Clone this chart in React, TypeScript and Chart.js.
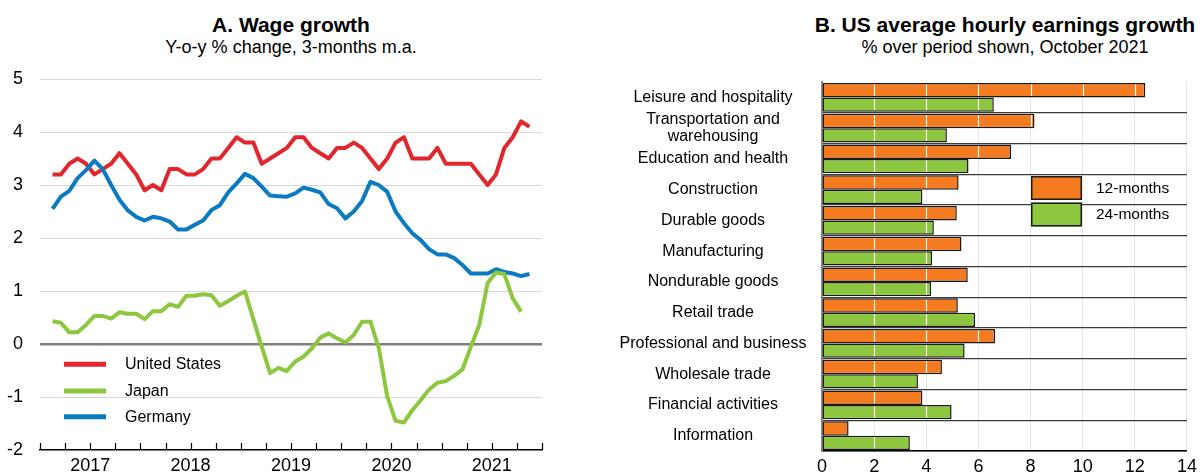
import React, { useEffect, useRef } from 'react';
import { Chart, registerables } from 'chart.js';

Chart.register(...registerables);

const FONT = "'Liberation Sans', Arial, Helvetica, sans-serif";
Chart.defaults.font.family = FONT;

// ---------- Panel A: Wage growth (monthly, Feb 2017 onwards) ----------
const firstMonthIndex = 1; // months since Jan 2017 (1 = Feb 2017)
const yearLabels = ['2017', '2018', '2019', '2020', '2021'];

const usWage = [
  3.2, 3.2, 3.4, 3.5, 3.4, 3.2, 3.3, 3.4, 3.6, 3.4, 3.2, 2.9,
  3.0, 2.9, 3.3, 3.3, 3.2, 3.2, 3.3, 3.5, 3.5, 3.7, 3.9, 3.8,
  3.8, 3.4, 3.5, 3.6, 3.7, 3.9, 3.9, 3.7, 3.6, 3.5, 3.7, 3.7,
  3.8, 3.7, 3.5, 3.3, 3.5, 3.8, 3.9, 3.5, 3.5, 3.5, 3.7, 3.4,
  3.4, 3.4, 3.4, 3.2, 3.0, 3.2, 3.7, 3.9, 4.2, 4.1,
];

const japanWage = [
  0.43, 0.40, 0.22, 0.22, 0.36, 0.53, 0.53, 0.48, 0.60, 0.57, 0.57, 0.47,
  0.62, 0.62, 0.75, 0.70, 0.91, 0.91, 0.94, 0.92, 0.72, 0.81, 0.91, 0.99,
  0.47, -0.05, -0.55, -0.45, -0.51, -0.33, -0.24, -0.08, 0.12, 0.20, 0.11, 0.03,
  0.17, 0.42, 0.42, -0.08, -0.99, -1.45, -1.48, -1.25, -1.06, -0.86, -0.73, -0.70,
  -0.60, -0.48, -0.05, 0.36, 1.15, 1.35, 1.32, 0.86, 0.61,
];

const germanyWage = [
  2.55, 2.78, 2.89, 3.13, 3.28, 3.46, 3.30, 3.00, 2.72, 2.52, 2.40, 2.33,
  2.40, 2.37, 2.31, 2.16, 2.16, 2.25, 2.33, 2.53, 2.62, 2.86, 3.03, 3.21,
  3.13, 2.97, 2.80, 2.79, 2.78, 2.84, 2.95, 2.91, 2.86, 2.64, 2.56, 2.37,
  2.50, 2.70, 3.06, 3.00, 2.87, 2.50, 2.28, 2.09, 1.96, 1.79, 1.69, 1.69,
  1.62, 1.49, 1.33, 1.33, 1.33, 1.41, 1.36, 1.33, 1.28, 1.32,
];

// ---------- Panel B: US average hourly earnings growth ----------
const sectors: (string | string[])[] = [
  'Leisure and hospitality',
  ['Transportation and', 'warehousing'],
  'Education and health',
  'Construction',
  'Durable goods',
  'Manufacturing',
  'Nondurable goods',
  'Retail trade',
  'Professional and business',
  'Wholesale trade',
  'Financial activities',
  'Information',
];
const earnings12m = [12.4, 8.15, 7.25, 5.24, 5.17, 5.35, 5.59, 5.21, 6.64, 4.6, 3.85, 1.02];
const earnings24m = [6.59, 4.79, 5.62, 3.85, 4.29, 4.22, 4.19, 5.87, 5.47, 3.68, 4.97, 3.37];

const RED = '#E1262D';
const GREEN = '#8DC63F';
const BLUE = '#0B7BC1';
const ORANGE = '#F47B20';
const BAR_GREEN = '#8DC63F';

// canvas placement on the page
const A_TOP = 53;
const A_HEIGHT = 423;
const B_TOP = 58;
const B_HEIGHT = 417;

const toPoints = (values: number[]) =>
  values.map((v, i) => ({ x: firstMonthIndex + i + 0.5, y: v }));

const quarterTicksPlugin = {
  id: 'quarterTicks',
  afterDraw(chart: any) {
    const { ctx, chartArea } = chart;
    const x = chart.scales.x;
    ctx.save();
    ctx.strokeStyle = '#000';
    ctx.lineWidth = 1.2;
    x.ticks.forEach((t: any) => {
      const px = Math.round(x.getPixelForValue(t.value)) + 0.5;
      ctx.beginPath();
      ctx.moveTo(px, chartArea.bottom);
      ctx.lineTo(px, chartArea.bottom - 7);
      ctx.stroke();
    });
    ctx.restore();
  },
};

const lineLegendPlugin = {
  id: 'lineLegend',
  afterDraw(chart: any) {
    const { ctx } = chart;
    const rows = [364.3, 391, 416.7].map((y) => y - A_TOP);
    ctx.save();
    ctx.font = `16px ${FONT}`;
    ctx.textBaseline = 'middle';
    ctx.fillStyle = '#000';
    chart.data.datasets.forEach((ds: any, k: number) => {
      const y = rows[k];
      ctx.strokeStyle = ds.borderColor;
      ctx.lineWidth = 5;
      ctx.beginPath();
      ctx.moveTo(64, y);
      ctx.lineTo(106, y);
      ctx.stroke();
      ctx.fillText(ds.label, 125, y + 0.5);
    });
    ctx.restore();
  },
};

const barGridOverlayPlugin = {
  id: 'barGridOverlay',
  afterDatasetsDraw(chart: any) {
    const { ctx } = chart;
    const xs = chart.scales.x;
    const values = [2, 4, 6, 8, 10, 12];
    ctx.save();
    ctx.strokeStyle = '#ffffff';
    ctx.lineWidth = 1.2;
    chart.data.datasets.forEach((_: any, di: number) => {
      const meta = chart.getDatasetMeta(di);
      meta.data.forEach((bar: any) => {
        const p = bar.getProps(['x', 'y', 'base', 'height'], true);
        const left = Math.min(p.base, p.x);
        const right = Math.max(p.base, p.x);
        values.forEach((v) => {
          const px = Math.round(xs.getPixelForValue(v)) + 0.5;
          if (px > left + 1.5 && px < right - 1.5) {
            ctx.beginPath();
            ctx.moveTo(px, p.y - p.height / 2 + 1.5);
            ctx.lineTo(px, p.y + p.height / 2 - 1.5);
            ctx.stroke();
          }
        });
      });
    });
    ctx.restore();
  },
};

const boxLegendPlugin = {
  id: 'boxLegend',
  afterDraw(chart: any) {
    const { ctx } = chart;
    const boxes = [
      { y: 176 - B_TOP, h: 24 },
      { y: 202.5 - B_TOP, h: 24 },
    ];
    ctx.save();
    ctx.font = `15.5px ${FONT}`;
    ctx.textBaseline = 'middle';
    chart.data.datasets.forEach((ds: any, i: number) => {
      const b = boxes[i];
      ctx.fillStyle = ds.backgroundColor;
      ctx.fillRect(431, b.y, 51, b.h);
      ctx.strokeStyle = '#1a1a1a';
      ctx.lineWidth = 1.5;
      ctx.strokeRect(431.75, b.y + 0.75, 49.5, b.h - 1.5);
      ctx.fillStyle = '#000';
      ctx.fillText(ds.label, 496, b.y + b.h / 2 + 0.5);
    });
    ctx.restore();
  },
};

function WageChart() {
  const ref = useRef<HTMLCanvasElement>(null);
  useEffect(() => {
    const chart = new Chart(ref.current as HTMLCanvasElement, {
      type: 'line',
      data: {
        datasets: [
          { label: 'United States', data: toPoints(usWage), borderColor: RED, backgroundColor: RED, order: 3 },
          { label: 'Japan', data: toPoints(japanWage), borderColor: GREEN, backgroundColor: GREEN, order: 1 },
          { label: 'Germany', data: toPoints(germanyWage), borderColor: BLUE, backgroundColor: BLUE, order: 2 },
        ],
      },
      options: {
        animation: false,
        responsive: false,
        maintainAspectRatio: false,
        layout: { padding: { top: 0, right: 18, left: 0, bottom: 0 } },
        elements: {
          point: { radius: 0 },
          line: { borderWidth: 4, tension: 0, borderJoinStyle: 'round', borderCapStyle: 'butt' },
        },
        plugins: { legend: { display: false }, tooltip: { enabled: false } },
        scales: {
          x: {
            type: 'linear',
            min: 0,
            max: 60,
            afterBuildTicks: (s: any) => {
              const t = [];
              for (let v = 0; v <= 60; v += 3) t.push({ value: v });
              s.ticks = t;
            },
            afterFit: (s: any) => {
              s.height = 24;
            },
            grid: { display: false, drawTicks: false },
            border: { display: true, color: '#000', width: 1.5 },
            ticks: {
              autoSkip: false,
              maxRotation: 0,
              minRotation: 0,
              padding: 5,
              color: '#000',
              font: { size: 18 },
              callback: (v: any) => {
                const n = Number(v);
                return n % 12 === 6 ? yearLabels[(n - 6) / 12] : '';
              },
            },
          },
          y: {
            min: -2,
            max: 5,
            afterFit: (s: any) => {
              s.width = 40;
            },
            ticks: { stepSize: 1, padding: 17, color: '#000', font: { size: 18, lineHeight: 1 } },
            grid: {
              drawTicks: false,
              color: (c: any) =>
                c.tick && c.tick.value === 0 ? '#7f7f7f' : c.tick && c.tick.value === -2 ? 'rgba(0,0,0,0)' : '#d9d9d9',
              lineWidth: (c: any) => (c.tick && c.tick.value === 0 ? 2.5 : 1),
            },
            border: { display: false },
          },
        },
      } as any,
      plugins: [quarterTicksPlugin, lineLegendPlugin],
    });
    return () => chart.destroy();
  }, []);
  return (
    <canvas
      ref={ref}
      width={560}
      height={A_HEIGHT}
      style={{ position: 'absolute', left: 0, top: A_TOP, width: 560, height: A_HEIGHT }}
    />
  );
}

function EarningsChart() {
  const ref = useRef<HTMLCanvasElement>(null);
  useEffect(() => {
    const chart = new Chart(ref.current as HTMLCanvasElement, {
      type: 'bar',
      data: {
        labels: sectors as any,
        datasets: [
          { label: '12-months', data: earnings12m, backgroundColor: ORANGE },
          { label: '24-months', data: earnings24m, backgroundColor: BAR_GREEN },
        ],
      },
      options: {
        indexAxis: 'y',
        animation: false,
        responsive: false,
        maintainAspectRatio: false,
        layout: { padding: { top: 0, right: 12.5, left: 0, bottom: 0 } },
        datasets: {
          bar: {
            categoryPercentage: 0.93,
            barPercentage: 1,
            borderWidth: 1.5,
            borderColor: '#1a1a1a',
            borderSkipped: false,
          },
        },
        plugins: { legend: { display: false }, tooltip: { enabled: false } },
        scales: {
          x: {
            min: 0,
            max: 14,
            afterFit: (s: any) => {
              s.height = 23;
            },
            ticks: { stepSize: 2, padding: 5, color: '#000', font: { size: 18 } },
            grid: {
              drawTicks: false,
              color: (c: any) => (c.tick && c.tick.value === 0 ? 'rgba(0,0,0,0)' : '#e3e7ef'),
              lineWidth: 1,
            },
            border: { color: '#000', width: 1.5 },
          },
          y: {
            z: 1,
            afterFit: (s: any) => {
              s.width = 222;
            },
            ticks: {
              autoSkip: false,
              crossAlign: 'center',
              padding: 15.6,
              color: '#000',
              font: { size: 16, lineHeight: 1.05 },
            },
            grid: {
              drawTicks: false,
              color: (c: any) => (c.index === 0 ? 'rgba(0,0,0,0)' : '#3a3a3a'),
              lineWidth: 1.3,
            },
            border: { color: '#8a8a8a', width: 2 },
          },
        },
      } as any,
      plugins: [barGridOverlayPlugin, boxLegendPlugin],
    });
    return () => chart.destroy();
  }, []);
  return (
    <canvas
      ref={ref}
      width={602}
      height={B_HEIGHT}
      style={{ position: 'absolute', left: 600, top: B_TOP, width: 602, height: B_HEIGHT }}
    />
  );
}

const titleStyle = (center: number, top: number, size: number, bold: boolean): React.CSSProperties => ({
  position: 'absolute',
  left: center - 300,
  width: 600,
  top,
  textAlign: 'center',
  fontFamily: FONT,
  fontSize: size,
  lineHeight: `${size}px`,
  fontWeight: bold ? 'bold' : 'normal',
  color: '#000',
  whiteSpace: 'nowrap',
});

export default function App() {
  return (
    <div
      style={{
        position: 'absolute',
        left: 0,
        top: 0,
        width: 1202,
        height: 474,
        background: '#fff',
        overflow: 'hidden',
      }}
    >
      <div style={titleStyle(291, 14, 21, true)}>A. Wage growth</div>
      <div style={titleStyle(291, 38, 18, false)}>Y-o-y % change, 3-months m.a.</div>
      <div style={titleStyle(1005, 14, 21, true)}>B. US average hourly earnings growth</div>
      <div style={titleStyle(1005, 38, 18, false)}>% over period shown, October 2021</div>
      <WageChart />
      <EarningsChart />
    </div>
  );
}
